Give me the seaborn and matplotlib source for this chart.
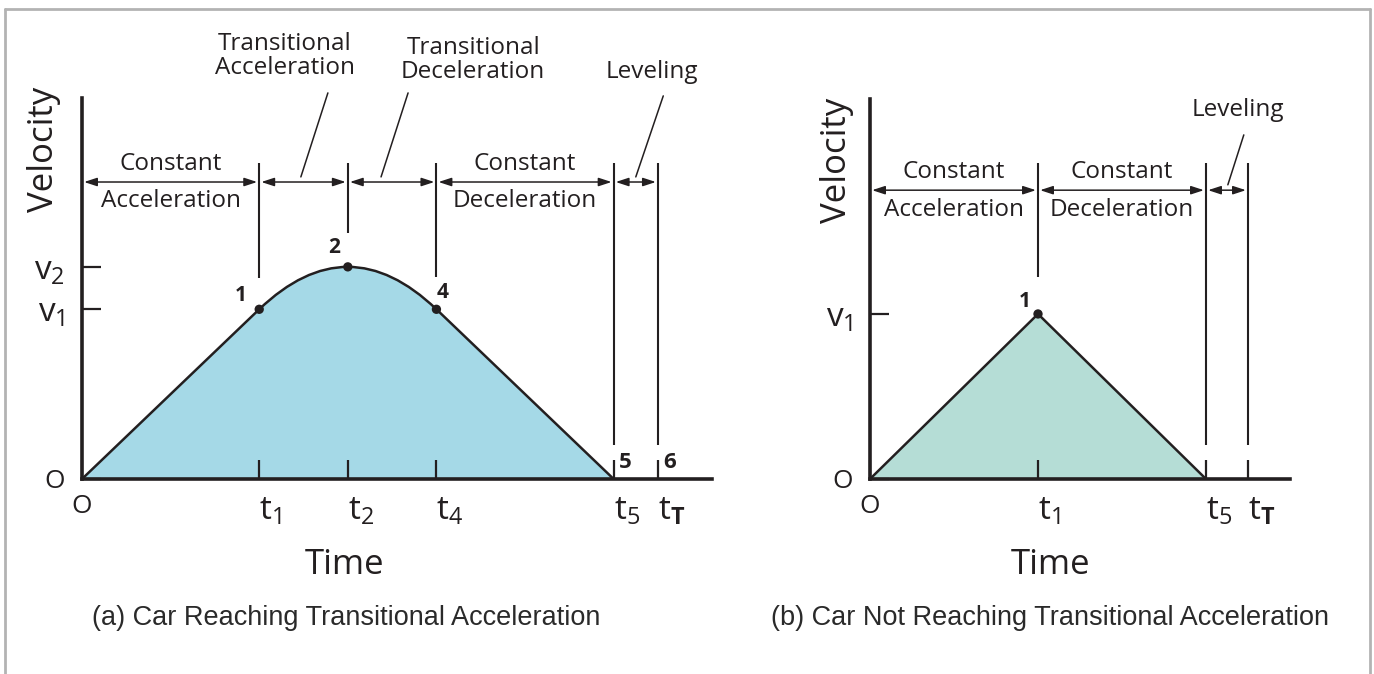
import numpy as np
import pandas as pd
import matplotlib
matplotlib.use("Agg")
import matplotlib.pyplot as plt
import seaborn as sns
from matplotlib.path import Path
from matplotlib.patches import PathPatch
from matplotlib.lines import Line2D

# ---- panel (a): car reaching transitional acceleration ----
a_ticks_t = [0, 4, 6, 8, 12, 13]            # O, t1, t2, t4, t5, tT
a_ticks_t_labels = ["O", r"$\mathrm{t}_{1}$", r"$\mathrm{t}_{2}$", r"$\mathrm{t}_{4}$",
                    r"$\mathrm{t}_{5}$", r"$\mathrm{t}_{\mathbf{T}}$"]
a_ticks_v = [0, 4, 5]
a_ticks_v_labels = ["O", r"$\mathrm{v}_{1}$", r"$\mathrm{v}_{2}$"]
a_profile_t = [0, 4, 6, 8, 12]               # start, point 1, point 2, point 4, stop
a_profile_v = [0, 4, 5, 4, 0]
a_point_labels = ["1", "2", "4"]
a_phase_edges = [0, 4, 6, 8, 12, 13]
a_phase_top = ["Constant", "", "", "Constant", ""]
a_phase_bottom = ["Acceleration", "", "", "Deceleration", ""]

# ---- panel (b): car not reaching transitional acceleration ----
b_ticks_t = [0, 4, 8, 9]                     # O, t1, t5, tT
b_ticks_t_labels = ["O", r"$\mathrm{t}_{1}$", r"$\mathrm{t}_{5}$", r"$\mathrm{t}_{\mathbf{T}}$"]
b_ticks_v = [0, 4]
b_ticks_v_labels = ["O", r"$\mathrm{v}_{1}$"]
b_profile_t = [0, 4, 8]
b_profile_v = [0, 4, 0]
b_point_labels = ["1"]
b_phase_edges = [0, 4, 8, 9]
b_phase_top = ["Constant", "Constant", ""]
b_phase_bottom = ["Acceleration", "Deceleration", ""]

INK = "#231f20"
FILL_A = "#a5d9e7"
FILL_B = "#b5ddd6"

sns.set_theme(style="white")
plt.rcParams["font.family"] = ["Open Sans", "DejaVu Sans"]
plt.rcParams["mathtext.fontset"] = "custom"
plt.rcParams["mathtext.rm"] = "Open Sans"
plt.rcParams["mathtext.bf"] = "Open Sans:bold"
plt.rcParams["mathtext.it"] = "Open Sans:italic"

W, H = 1374, 674
fig = plt.figure(figsize=(W / 100, H / 100), dpi=100)
fig.patch.set_facecolor("white")


def px_axes(left, top, right, bottom):
    return fig.add_axes([left / W, 1 - bottom / H, (right - left) / W, (bottom - top) / H])


ax_a = px_axes(82, 98, 712, 479)
ax_b = px_axes(870, 99, 1290, 479)

# ---- velocity profile (a): straight ramps joined by parabolic transitions ----
t0, t1, t2, t4, t5 = a_profile_t
v0, v1, v2, v4, v5 = a_profile_v
ctrl1 = (t1 + (v2 - v1) / (v1 / t1), v2)          # tangent intersection
ctrl2 = (t4 - (v2 - v4) / (v4 / (t5 - t4)), v2)
verts = [(t0, v0), (t1, v1), ctrl1, (t2, v2), ctrl2, (t4, v4), (t5, v5)]
codes = [Path.MOVETO, Path.LINETO, Path.CURVE3, Path.CURVE3, Path.CURVE3, Path.CURVE3, Path.LINETO]
ax_a.add_patch(PathPatch(Path(verts + [(t0, v0)], codes + [Path.CLOSEPOLY]),
                         facecolor=FILL_A, edgecolor="none", zorder=1))
ax_a.add_patch(PathPatch(Path(verts, codes), facecolor="none", edgecolor=INK,
                         lw=1.8, zorder=3, capstyle="round"))
pts_a = pd.DataFrame({"t": a_profile_t[1:4], "v": a_profile_v[1:4]})
sns.scatterplot(data=pts_a, x="t", y="v", ax=ax_a, color=INK, s=45, edgecolor="none", zorder=5)

# ---- velocity profile (b): triangle ----
ax_b.fill_between(b_profile_t, b_profile_v, 0, color=FILL_B, lw=0, zorder=1)
sns.lineplot(x=b_profile_t, y=b_profile_v, ax=ax_b, color=INK, lw=1.8, sort=False,
             estimator=None, zorder=3)
pts_b = pd.DataFrame({"t": b_profile_t[1:2], "v": b_profile_v[1:2]})
sns.scatterplot(data=pts_b, x="t", y="v", ax=ax_b, color=INK, s=45, edgecolor="none", zorder=5)


def style_axes(ax, xmax, ymax, tt, tl, vt, vl):
    ax.set_xlim(0, xmax)
    ax.set_ylim(0, ymax)
    ax.set_facecolor("none")
    ax.set_axisbelow(False)
    for s in ["top", "right"]:
        ax.spines[s].set_visible(False)
    for s in ["left", "bottom"]:
        ax.spines[s].set_linewidth(2.6)
        ax.spines[s].set_color(INK)
        ax.spines[s].set_zorder(6)
    ax.set_xticks(tt, tl)
    ax.set_yticks(vt, vl)
    ax.tick_params(axis="both", which="major", direction="in", length=14, width=1.6, color=INK,
                   labelcolor=INK, labelsize=24, bottom=True, left=True, top=False, right=False)
    ax.tick_params(axis="x", pad=11)
    ax.tick_params(axis="y", pad=12)
    for tick in ax.xaxis.get_major_ticks():
        if tick.label1.get_text() == "O":
            tick.label1.set_fontsize(19)
        else:
            tick.label1.set_horizontalalignment("left")
    for tick in ax.yaxis.get_major_ticks():
        if tick.label1.get_text() == "O":
            tick.label1.set_fontsize(19)
    ax.set_xlabel("")
    ax.set_ylabel("")


style_axes(ax_a, 14.22, 8.98, a_ticks_t, a_ticks_t_labels, a_ticks_v, a_ticks_v_labels)
style_axes(ax_b, 10.0, 9.21, b_ticks_t, b_ticks_t_labels, b_ticks_v, b_ticks_v_labels)

# point labels
for (t, v), lab, off in zip(pts_a.values, a_point_labels, [(-13, 10), (-10, 14), (4.5, 12)]):
    ax_a.annotate(lab, (t, v), xytext=off, textcoords="offset points", ha="center", va="center",
                  fontsize=15, fontweight="bold", color=INK)
ax_b.annotate(b_point_labels[0], tuple(pts_b.values[0]), xytext=(-9.5, 9), textcoords="offset points",
              ha="center", va="center", fontsize=15, fontweight="bold", color=INK)
for t, lab in zip(a_ticks_t[4:], ["5", "6"]):
    ax_a.annotate(lab, (t, 0), xytext=(4, 12), textcoords="offset points", ha="left", va="center",
                  fontsize=16, fontweight="bold", color=INK)


# ---- phase boundaries and arrows ----
def phases(ax, edges, tops, bottoms, arrow_v, line_top, line_bottoms):
    for t, lb in zip(edges[1:], line_bottoms):
        ax.plot([t, t], [lb, line_top], color=INK, lw=1.5, zorder=4, clip_on=False,
                solid_capstyle="butt")
    for i in range(len(edges) - 1):
        ax.annotate("", xy=(edges[i + 1], arrow_v), xytext=(edges[i], arrow_v),
                    arrowprops=dict(arrowstyle="<|-|>,head_length=0.55,head_width=0.18",
                                    color=INK, lw=1.1, shrinkA=1.5, shrinkB=1.5,
                                    mutation_scale=14))
        mid = (edges[i] + edges[i + 1]) / 2
        if tops[i]:
            ax.annotate(tops[i], (mid, arrow_v), xytext=(0, 13), textcoords="offset points",
                        ha="center", va="center", fontsize=17.5, color=INK)
            ax.annotate(bottoms[i], (mid, arrow_v), xytext=(0, -14), textcoords="offset points",
                        ha="center", va="center", fontsize=17.5, color=INK)


phases(ax_a, a_phase_edges, a_phase_top, a_phase_bottom, 7.0, 7.45, [4.74, 5.8, 4.76, 0.8, 0.8])
phases(ax_b, b_phase_edges, b_phase_top, b_phase_bottom, 7.0, 7.66, [4.9, 0.82, 0.82])


# callouts with leader lines
def callout(ax, text, tpos, leader):
    ax.text(tpos[0], tpos[1], text, ha="center", va="center", fontsize=17.5, color=INK,
            linespacing=1.0, clip_on=False)
    ax.plot([leader[0], leader[2]], [leader[1], leader[3]], color=INK, lw=1.1, clip_on=False)


callout(ax_a, "Transitional\nAcceleration", (4.58, 9.98), (5.55, 9.1, 4.94, 7.12))
callout(ax_a, "Transitional\nDeceleration", (8.83, 9.88), (7.36, 9.1, 6.75, 7.12))
callout(ax_a, "Leveling", (12.87, 9.6), (13.12, 9.03, 12.5, 7.12))
callout(ax_b, "Leveling", (8.76, 8.95), (8.9, 8.34, 8.52, 7.13))

# axis titles and captions
for ax, vx, vy, tx, cx, cap in [
    (ax_a, -0.060, 0.864, 0.416, 0.419, "(a) Car Reaching Transitional Acceleration"),
    (ax_b, -0.079, 0.839, 0.429, 0.429, "(b) Car Not Reaching Transitional Acceleration"),
]:
    ax.text(vx, vy, "Velocity", transform=ax.transAxes, rotation=90, ha="center", va="center",
            fontsize=25, color=INK, clip_on=False)
    ax.text(tx, -0.225, "Time", transform=ax.transAxes, ha="center", va="center",
            fontsize=25, color=INK, clip_on=False)
    ax.text(cx, -0.365, cap, transform=ax.transAxes, ha="center", va="center",
            fontsize=19.5, color="#2a2a2a", family=["Liberation Sans", "DejaVu Sans"], clip_on=False)

# gray frame
frame = dict(color="#b3b3b3", lw=2.0, transform=fig.transFigure)
fig.add_artist(Line2D([5 / W, 1370 / W], [1 - 9 / H, 1 - 9 / H], **frame))
fig.add_artist(Line2D([5 / W, 5 / W], [0, 1 - 9 / H], **frame))
fig.add_artist(Line2D([1370 / W, 1370 / W], [0, 1 - 9 / H], **frame))

fig.savefig("out.png", dpi=100)
